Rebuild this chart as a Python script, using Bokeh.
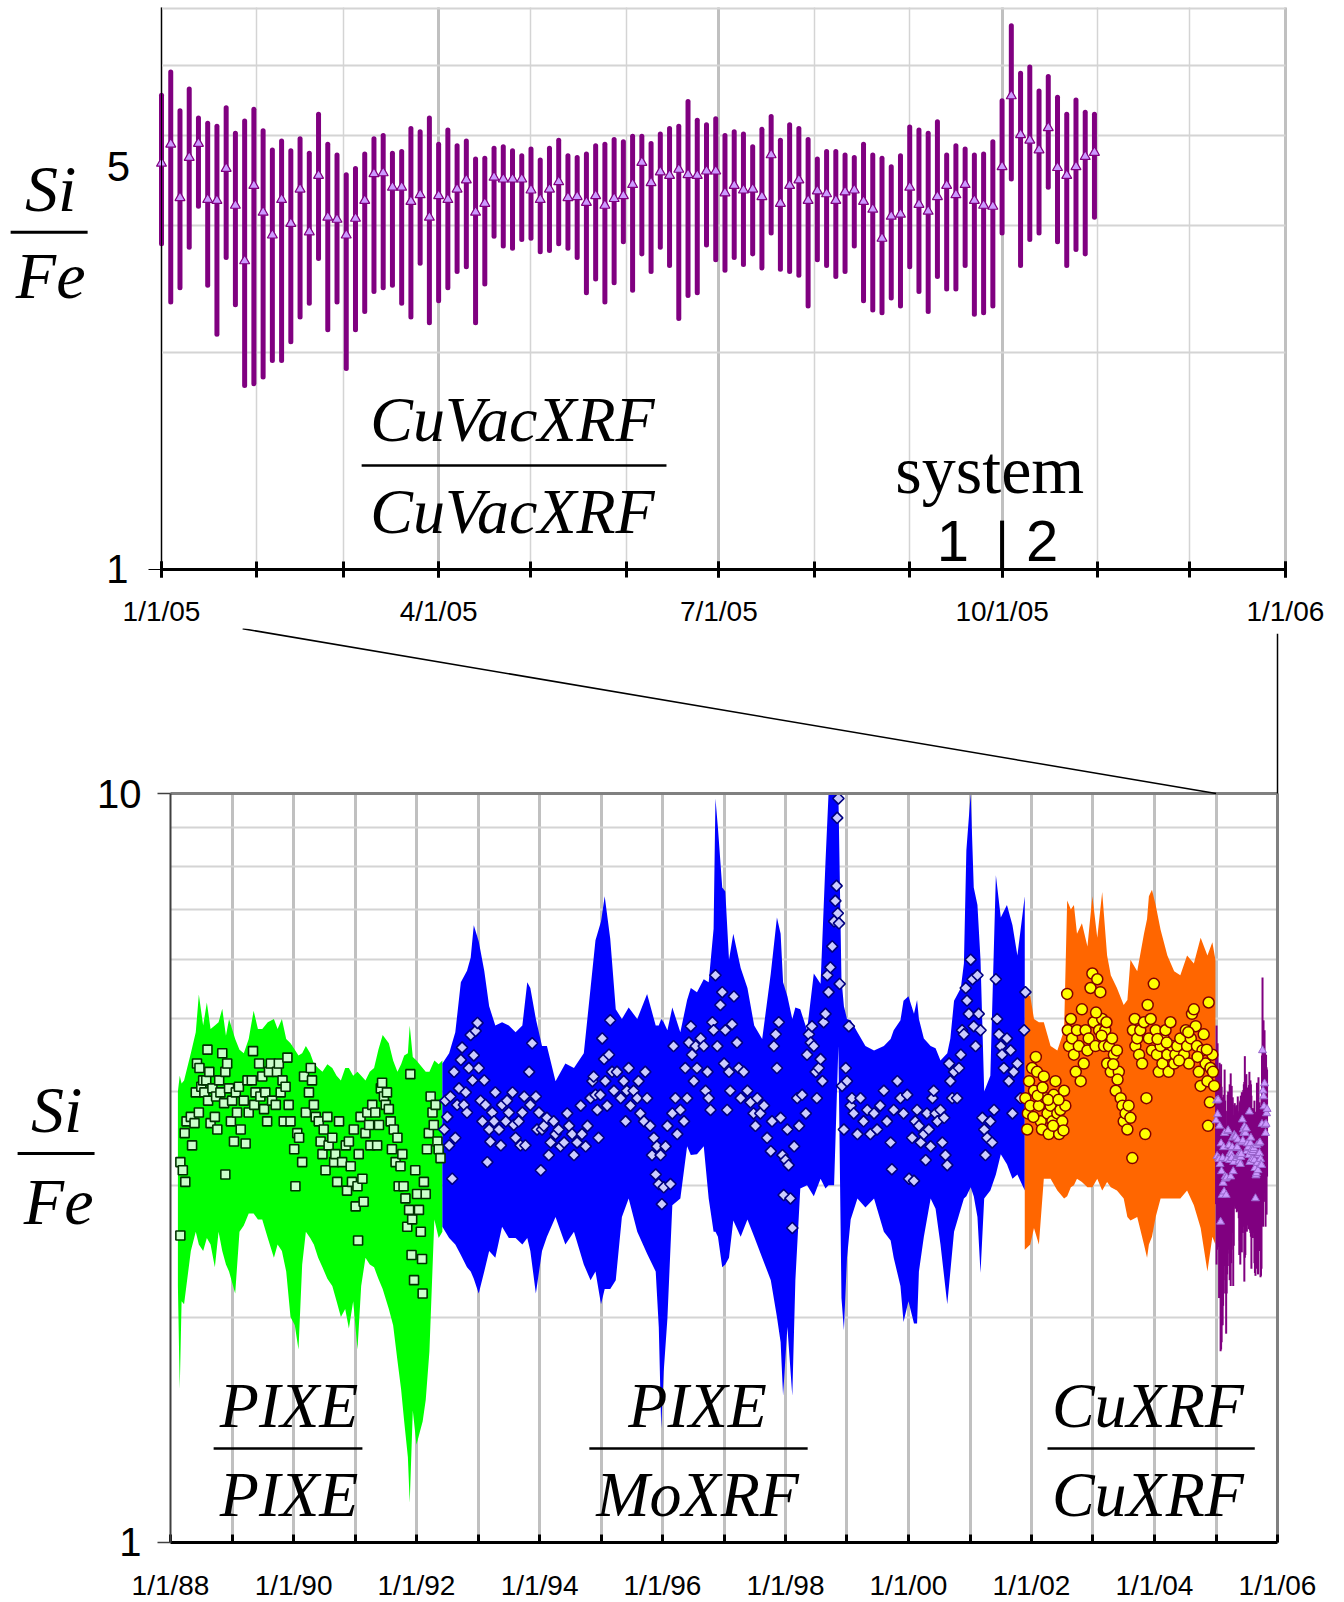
import math
from datetime import datetime, timedelta
from bokeh.plotting import figure
from bokeh.models import Range1d, FixedTicker, Label, ColumnDataSource
from bokeh.layouts import column
from bokeh.embed import file_html
from bokeh.resources import INLINE

# ---------------------------------------------------------------- data
# Top panel: CuVacXRF / CuVacXRF, one sample every third day of 2005
TOP_START = "2005-01-01"
TOP_STEP_DAYS = 3
TOP_HI = [4.55, 4.90, 4.33, 4.64, 4.23, 4.16, 4.12, 4.37, 4.03, 4.19,
          4.35, 4.06, 3.82, 3.93, 3.81, 3.96, 3.78, 4.28, 3.89, 3.76,
          3.53, 3.60, 3.77, 3.96, 4.00, 3.78, 3.80, 4.09, 4.05, 4.23,
          3.89, 4.07, 3.87, 3.93, 3.71, 3.72, 3.84, 3.86, 3.81, 3.75,
          3.83, 3.70, 3.84, 3.94, 3.75, 3.73, 3.77, 3.87, 3.89, 3.95,
          3.92, 3.99, 3.99, 3.90, 4.02, 4.09, 4.12, 4.46, 4.20, 4.14,
          4.22, 4.00, 4.05, 4.02, 3.86, 4.08, 4.25, 3.94, 4.14, 4.09,
          3.95, 3.71, 3.80, 3.80, 3.76, 3.73, 3.89, 3.76, 3.72, 3.62,
          3.75, 4.11, 4.07, 4.03, 4.18, 3.76, 3.87, 3.83, 3.76, 3.77,
          3.92, 4.47, 5.68, 4.88, 4.98, 4.61, 4.83, 4.52, 4.28, 4.48,
          4.31, 4.28]
TOP_MID = [3.66, 3.89, 3.28, 3.73, 3.90, 3.26, 3.25, 3.60, 3.20, 2.68,
           3.41, 3.13, 2.91, 3.26, 3.02, 3.37, 2.94, 3.52, 3.08, 3.06,
           2.91, 3.07, 3.25, 3.54, 3.55, 3.39, 3.39, 3.24, 3.31, 3.08,
           3.30, 3.26, 3.37, 3.47, 3.13, 3.22, 3.50, 3.48, 3.48, 3.48,
           3.36, 3.26, 3.37, 3.45, 3.28, 3.29, 3.23, 3.30, 3.20, 3.27,
           3.30, 3.42, 3.67, 3.44, 3.56, 3.52, 3.59, 3.53, 3.52, 3.57,
           3.57, 3.33, 3.41, 3.36, 3.37, 3.29, 3.76, 3.22, 3.41, 3.47,
           3.25, 3.35, 3.32, 3.25, 3.34, 3.36, 3.24, 3.16, 2.88, 3.09,
           3.11, 3.39, 3.21, 3.14, 3.29, 3.41, 3.31, 3.42, 3.25, 3.20,
           3.19, 3.62, 4.54, 4.01, 3.94, 3.82, 4.10, 3.61, 3.52, 3.62,
           3.74, 3.79]
TOP_LO = [2.83, 2.35, 2.46, 2.80, 3.19, 2.48, 2.12, 2.71, 2.33, 1.80,
          1.81, 1.85, 1.95, 1.95, 2.07, 2.24, 2.34, 2.70, 2.15, 2.35,
          1.90, 2.15, 2.28, 2.43, 2.46, 2.48, 2.34, 2.24, 2.66, 2.20,
          2.36, 2.46, 2.59, 2.63, 2.20, 2.49, 2.90, 2.81, 2.79, 2.87,
          2.88, 2.76, 2.77, 2.83, 2.79, 2.71, 2.42, 2.53, 2.35, 2.50,
          2.85, 2.44, 2.74, 2.59, 2.80, 2.64, 2.23, 2.40, 2.42, 2.82,
          2.69, 2.60, 2.71, 2.65, 2.74, 2.62, 2.93, 2.61, 2.59, 2.56,
          2.32, 2.69, 2.64, 2.55, 2.59, 2.81, 2.36, 2.29, 2.27, 2.38,
          2.32, 2.63, 2.43, 2.28, 2.55, 2.45, 2.45, 2.64, 2.26, 2.27,
          2.32, 2.93, 3.48, 2.64, 2.87, 2.93, 3.39, 2.85, 2.64, 2.78,
          2.74, 3.08]
TOP_TICK_DATES = ["2005-01-01", "2005-04-01", "2005-07-01", "2005-10-01", "2006-01-01"]
TOP_TICK_LABELS = ["1/1/05", "4/1/05", "7/1/05", "10/1/05", "1/1/06"]
TOP_MONTH_DATES = ["2005-01-01", "2005-02-01", "2005-03-01", "2005-04-01", "2005-05-01",
                   "2005-06-01", "2005-07-01", "2005-08-01", "2005-09-01", "2005-10-01",
                   "2005-11-01", "2005-12-01", "2006-01-01"]
TOP_GRID_VALUES = [2, 3, 4, 5, 6]
TOP_Y_MAX = 6.02
SYSTEM_CHANGE = "2005-10-01"

# Bottom panel: spread of the samples (decimal years)
GREEN_BAND_YEAR = [1988.12, 1988.15, 1988.18, 1988.22, 1988.33, 1988.41, 1988.46, 1988.53, 1988.59, 1988.65,
                   1988.72, 1988.78, 1988.84, 1988.90, 1988.95, 1989.05, 1989.12, 1989.19, 1989.27, 1989.35,
                   1989.42, 1989.49, 1989.58, 1989.68, 1989.74, 1989.81, 1989.88, 1989.95, 1990.02, 1990.08,
                   1990.14, 1990.20, 1990.27, 1990.33, 1990.40, 1990.47, 1990.55, 1990.63, 1990.70, 1990.77,
                   1990.84, 1990.90, 1990.97, 1991.04, 1991.10, 1991.17, 1991.24, 1991.31, 1991.38, 1991.45,
                   1991.55, 1991.62, 1991.69, 1991.75, 1991.80, 1991.86, 1991.89, 1991.94, 1992.00, 1992.05,
                   1992.10, 1992.15, 1992.21, 1992.29, 1992.36, 1992.42]
GREEN_HI = [4.00, 4.20, 4.10, 4.14, 4.50, 4.80, 5.39, 4.90, 5.26, 4.85,
            4.90, 4.95, 5.16, 4.75, 5.00, 4.70, 4.55, 4.50, 4.70, 5.13,
            4.85, 4.85, 4.95, 5.00, 4.85, 5.00, 4.70, 4.64, 4.55, 4.47,
            4.50, 4.60, 4.50, 4.36, 4.30, 4.25, 4.35, 4.30, 4.20, 4.14,
            4.30, 4.30, 4.20, 4.25, 4.20, 4.14, 4.25, 4.30, 4.55, 4.76,
            4.64, 4.40, 4.25, 4.35, 4.47, 4.50, 4.90, 4.45, 4.40, 4.35,
            4.30, 4.25, 4.25, 4.40, 4.35, 4.40]
GREEN_LO = [2.20, 1.60, 2.10, 2.08, 2.45, 2.60, 2.50, 2.45, 2.55, 2.50,
            2.33, 2.60, 2.45, 2.35, 2.30, 2.15, 2.60, 2.65, 2.75, 2.75,
            2.70, 2.70, 2.55, 2.40, 2.50, 2.45, 2.30, 2.00, 1.95, 1.81,
            2.35, 2.60, 2.55, 2.50, 2.40, 2.33, 2.25, 2.20, 2.10, 2.00,
            2.05, 1.93, 2.10, 1.81, 2.20, 2.40, 2.35, 2.33, 2.25, 2.18,
            2.05, 1.95, 1.75, 1.60, 1.45, 1.30, 1.13, 1.50, 1.35, 1.40,
            1.45, 1.55, 1.80, 2.70, 2.55, 2.60]

BLUE_BAND_YEAR = [1992.42, 1992.53, 1992.63, 1992.72, 1992.82, 1992.88, 1992.93, 1993.01, 1993.10, 1993.18,
                  1993.28, 1993.39, 1993.50, 1993.61, 1993.72, 1993.80, 1993.85, 1993.94, 1994.04, 1994.12,
                  1994.26, 1994.42, 1994.56, 1994.72, 1994.83, 1994.91, 1995.00, 1995.06, 1995.15, 1995.24,
                  1995.34, 1995.45, 1995.59, 1995.75, 1995.89, 1995.94, 1995.98, 1996.02, 1996.08, 1996.16,
                  1996.29, 1996.40, 1996.46, 1996.56, 1996.67, 1996.75, 1996.83, 1996.86, 1996.90, 1996.97,
                  1997.02, 1997.08, 1997.15, 1997.27, 1997.38, 1997.49, 1997.62, 1997.76, 1997.86, 1997.92,
                  1997.96, 1998.03, 1998.11, 1998.16, 1998.24, 1998.35, 1998.46, 1998.57, 1998.65, 1998.70,
                  1998.79, 1998.86, 1998.91, 1998.95, 1999.00, 1999.06, 1999.17, 1999.30, 1999.44, 1999.60,
                  1999.71, 1999.76, 1999.87, 1999.92, 2000.00, 2000.09, 2000.14, 2000.17, 2000.25, 2000.36,
                  2000.44, 2000.52, 2000.63, 2000.68, 2000.74, 2000.85, 2000.90, 2000.94, 2001.01, 2001.06,
                  2001.12, 2001.17, 2001.23, 2001.33, 2001.42, 2001.50, 2001.60, 2001.69, 2001.77, 2001.89]
BLUE_HI = [4.36, 4.50, 4.80, 5.60, 5.80, 6.04, 6.67, 6.35, 5.80, 5.20,
           4.90, 4.95, 4.90, 4.80, 4.90, 5.60, 5.50, 5.00, 4.60, 4.60,
           4.13, 4.36, 4.30, 4.50, 5.50, 6.37, 6.75, 7.29, 6.40, 5.15,
           5.00, 5.18, 5.00, 5.40, 4.90, 4.90, 5.00, 4.95, 4.83, 5.18,
           4.80, 5.30, 5.50, 5.43, 5.65, 5.60, 6.60, 9.85, 9.00, 7.49,
           7.40, 6.00, 6.50, 5.85, 5.50, 4.90, 4.70, 5.75, 6.83, 6.50,
           5.60, 5.36, 5.00, 5.18, 5.15, 4.83, 5.75, 5.57, 8.10, 10.0,
           10.0, 10.0, 5.65, 5.20, 5.00, 4.98, 4.80, 4.60, 4.54, 4.60,
           4.70, 4.83, 4.98, 5.29, 5.36, 5.08, 5.30, 5.00, 4.71, 4.60,
           4.57, 4.40, 4.50, 4.71, 5.29, 5.50, 5.93, 8.40, 10.0, 7.49,
           7.10, 6.00, 4.00, 4.20, 7.78, 6.83, 7.10, 6.67, 6.08, 7.29]
BLUE_LO = [2.64, 2.55, 2.50, 2.42, 2.33, 2.30, 2.25, 2.15, 2.30, 2.45,
           2.40, 2.64, 2.55, 2.55, 2.50, 2.55, 2.45, 2.15, 2.45, 2.56,
           2.72, 2.50, 2.60, 2.35, 2.24, 2.30, 2.08, 2.18, 2.18, 2.24,
           2.72, 2.88, 2.60, 2.43, 2.30, 1.94, 1.42, 1.69, 1.99, 2.82,
           2.88, 3.38, 3.29, 3.30, 3.38, 2.88, 2.60, 2.60, 2.56, 2.33,
           2.35, 2.40, 2.69, 2.56, 2.70, 2.56, 2.40, 2.24, 2.00, 1.85,
           1.57, 1.94, 1.57, 2.24, 2.97, 3.00, 2.90, 3.06, 2.97, 3.00,
           3.00, 4.60, 2.12, 1.92, 2.40, 2.70, 2.88, 2.80, 2.88, 2.60,
           2.53, 2.40, 2.20, 1.97, 2.10, 1.96, 1.96, 2.30, 2.56, 2.88,
           2.79, 2.50, 2.08, 2.30, 2.60, 2.79, 2.88, 2.90, 2.98, 2.90,
           2.72, 2.29, 2.88, 2.95, 3.10, 3.30, 3.20, 3.06, 3.10, 2.95]

ORANGE_BAND_YEAR = [2001.89, 2001.98, 2002.04, 2002.12, 2002.20, 2002.31, 2002.42, 2002.53, 2002.58, 2002.64,
                    2002.69, 2002.74, 2002.82, 2002.91, 2002.99, 2003.07, 2003.15, 2003.23, 2003.29, 2003.39,
                    2003.50, 2003.56, 2003.61, 2003.72, 2003.83, 2003.88, 2003.91, 2003.96, 2004.02, 2004.10,
                    2004.21, 2004.32, 2004.42, 2004.53, 2004.64, 2004.75, 2004.86, 2004.94, 2004.99]
ORANGE_HI = [5.43, 5.36, 5.00, 4.95, 4.95, 4.60, 4.54, 4.83, 7.20, 7.00,
             7.10, 6.50, 6.71, 6.25, 7.29, 6.42, 7.39, 6.08, 5.72, 5.50,
             5.22, 5.30, 6.00, 5.79, 6.50, 6.80, 7.29, 7.44, 7.10, 6.58,
             6.08, 5.79, 5.72, 6.08, 5.93, 6.42, 6.08, 6.33, 6.00]
ORANGE_LO = [2.46, 2.50, 2.63, 2.50, 3.06, 3.06, 2.95, 2.88, 2.90, 2.98,
             3.00, 3.06, 3.03, 2.98, 2.98, 3.06, 2.95, 3.03, 2.98, 2.95,
             2.88, 2.72, 2.69, 2.72, 2.50, 2.40, 2.50, 2.56, 2.72, 2.88,
             2.88, 2.88, 2.88, 2.95, 2.82, 2.63, 2.30, 2.56, 2.50]

# Bottom panel: individual sample markers (decimal year, Si/Fe)
GREEN_MK_YEAR = [1988.16, 1988.16, 1988.20, 1988.24, 1988.23, 1988.26, 1988.33, 1988.35, 1988.39, 1988.41,
                 1988.43, 1988.46, 1988.47, 1988.50, 1988.53, 1988.55, 1988.58, 1988.60, 1988.61, 1988.63,
                 1988.65, 1988.68, 1988.72, 1988.74, 1988.76, 1988.79, 1988.81, 1988.84, 1988.87, 1988.89,
                 1988.89, 1988.92, 1988.95, 1988.98, 1989.00, 1989.03, 1989.06, 1989.08, 1989.11, 1989.14,
                 1989.19, 1989.22, 1989.25, 1989.27, 1989.32, 1989.34, 1989.36, 1989.38, 1989.44, 1989.46,
                 1989.49, 1989.52, 1989.54, 1989.57, 1989.60, 1989.63, 1989.65, 1989.71, 1989.73, 1989.76,
                 1989.79, 1989.82, 1989.84, 1989.87, 1989.90, 1989.92, 1989.95, 1990.01, 1990.03, 1990.06,
                 1990.09, 1990.14, 1990.17, 1990.20, 1990.25, 1990.28, 1990.30, 1990.33, 1990.36, 1990.41,
                 1990.44, 1990.47, 1990.49, 1990.52, 1990.55, 1990.57, 1990.63, 1990.66, 1990.68, 1990.71,
                 1990.74, 1990.79, 1990.85, 1990.87, 1990.90, 1990.93, 1990.95, 1990.98, 1991.01, 1991.04,
                 1991.05, 1991.06, 1991.09, 1991.12, 1991.14, 1991.17, 1991.20, 1991.23, 1991.25, 1991.28,
                 1991.33, 1991.36, 1991.39, 1991.42, 1991.44, 1991.47, 1991.50, 1991.52, 1991.55, 1991.58,
                 1991.60, 1991.63, 1991.66, 1991.69, 1991.71, 1991.74, 1991.77, 1991.79, 1991.82, 1991.85,
                 1991.88, 1991.90, 1991.92, 1991.93, 1991.96, 1991.98, 1992.01, 1992.04, 1992.07, 1992.09,
                 1992.10, 1992.12, 1992.15, 1992.17, 1992.20, 1992.23, 1992.26, 1992.28, 1992.31, 1992.34,
                 1992.36, 1992.39]
GREEN_MK_VAL = [2.57, 3.22, 3.14, 3.03, 3.52, 3.65, 3.70, 3.39, 3.63, 3.99,
                4.36, 3.75, 4.30, 4.06, 4.14, 3.99, 4.14, 4.55, 3.89, 4.25,
                3.63, 4.04, 3.70, 3.94, 3.56, 4.14, 3.99, 4.50, 3.86, 4.25,
                3.10, 4.36, 4.04, 3.65, 3.89, 3.43, 3.99, 3.75, 4.06, 3.56,
                3.89, 3.41, 4.14, 3.75, 4.14, 4.53, 3.84, 3.99, 4.36, 3.94,
                4.19, 3.79, 3.99, 3.65, 4.25, 4.36, 3.89, 3.84, 4.25, 4.36,
                3.99, 4.14, 3.65, 4.06, 4.44, 3.84, 3.65, 3.35, 2.99, 3.52,
                3.47, 3.22, 4.19, 3.75, 3.99, 4.30, 4.14, 3.84, 3.70, 3.65,
                3.43, 3.30, 3.56, 3.14, 3.70, 3.39, 3.47, 3.22, 3.30, 3.03,
                3.65, 3.22, 3.39, 2.95, 3.43, 3.18, 3.03, 3.56, 2.81, 2.99,
                2.53, 3.30, 3.70, 3.06, 2.85, 3.52, 3.75, 3.61, 3.39, 3.84,
                3.75, 3.39, 3.61, 4.04, 4.11, 3.94, 3.84, 3.99, 3.79, 3.65,
                3.35, 3.56, 3.22, 3.47, 2.99, 3.18, 3.30, 2.99, 2.88, 2.64,
                2.78, 4.22, 2.42, 2.70, 2.24, 3.14, 2.92, 2.78, 2.60, 2.39,
                2.15, 3.03, 2.92, 3.35, 3.52, 3.94, 3.75, 3.61, 3.84, 3.43,
                3.35, 3.26]

BLUE_MK_YEAR = [1992.45, 1992.47, 1992.50, 1992.53, 1992.55, 1992.58, 1992.61, 1992.63, 1992.66, 1992.69,
                1992.72, 1992.74, 1992.77, 1992.80, 1992.82, 1992.85, 1992.88, 1992.91, 1992.93, 1992.96,
                1992.99, 1993.01, 1993.04, 1993.07, 1993.10, 1993.12, 1993.15, 1993.18, 1993.20, 1993.23,
                1993.26, 1993.28, 1993.34, 1993.37, 1993.39, 1993.45, 1993.47, 1993.50, 1993.56, 1993.58,
                1993.61, 1993.66, 1993.69, 1993.72, 1993.75, 1993.77, 1993.83, 1993.85, 1993.88, 1993.94,
                1993.96, 1993.99, 1994.02, 1994.04, 1994.07, 1994.12, 1994.15, 1994.18, 1994.23, 1994.26,
                1994.31, 1994.34, 1994.40, 1994.45, 1994.48, 1994.53, 1994.56, 1994.61, 1994.67, 1994.69,
                1994.75, 1994.78, 1994.83, 1994.86, 1994.88, 1994.91, 1994.94, 1994.96, 1994.99, 1995.02,
                1995.05, 1995.07, 1995.10, 1995.13, 1995.15, 1995.18, 1995.21, 1995.26, 1995.32, 1995.37,
                1995.40, 1995.42, 1995.45, 1995.48, 1995.53, 1995.59, 1995.61, 1995.64, 1995.70, 1995.72,
                1995.75, 1995.80, 1995.83, 1995.86, 1995.89, 1995.91, 1995.94, 1995.97, 1995.99, 1996.02,
                1996.05, 1996.08, 1996.13, 1996.16, 1996.18, 1996.21, 1996.24, 1996.29, 1996.35, 1996.37,
                1996.40, 1996.43, 1996.46, 1996.48, 1996.51, 1996.54, 1996.56, 1996.62, 1996.67, 1996.70,
                1996.73, 1996.75, 1996.78, 1996.81, 1996.83, 1996.86, 1996.89, 1996.94, 1996.97, 1997.00,
                1997.02, 1997.05, 1997.08, 1997.10, 1997.13, 1997.16, 1997.21, 1997.24, 1997.27, 1997.32,
                1997.38, 1997.43, 1997.48, 1997.51, 1997.54, 1997.59, 1997.65, 1997.70, 1997.76, 1997.78,
                1997.81, 1997.84, 1997.86, 1997.89, 1997.92, 1997.95, 1997.97, 1998.00, 1998.03, 1998.05,
                1998.08, 1998.11, 1998.14, 1998.19, 1998.22, 1998.27, 1998.33, 1998.35, 1998.38, 1998.41,
                1998.43, 1998.46, 1998.49, 1998.51, 1998.54, 1998.57, 1998.60, 1998.62, 1998.65, 1998.68,
                1998.70, 1998.73, 1998.76, 1998.79, 1998.81, 1998.83, 1998.85, 1998.87, 1998.88, 1998.84,
                1998.86, 1998.92, 1998.95, 1998.98, 1999.00, 1999.03, 1999.06, 1999.08, 1999.11, 1999.17,
                1999.22, 1999.27, 1999.33, 1999.38, 1999.44, 1999.49, 1999.54, 1999.60, 1999.65, 1999.71,
                1999.73, 1999.76, 1999.82, 1999.87, 1999.92, 1999.98, 2000.01, 2000.09, 2000.14, 2000.06,
                2000.11, 2000.17, 2000.20, 2000.25, 2000.28, 2000.30, 2000.33, 2000.36, 2000.39, 2000.41,
                2000.44, 2000.47, 2000.52, 2000.55, 2000.58, 2000.60, 2000.63, 2000.66, 2000.68, 2000.71,
                2000.74, 2000.79, 2000.82, 2000.85, 2000.87, 2000.90, 2000.93, 2000.95, 2000.98, 2001.01,
                2001.04, 2001.06, 2001.09, 2001.12, 2001.14, 2001.17, 2001.20, 2001.23, 2001.25, 2001.28,
                2001.33, 2001.36, 2001.39, 2001.42, 2001.44, 2001.47, 2001.50, 2001.52, 2001.55, 2001.60,
                2001.63, 2001.66, 2001.69, 2001.71, 2001.77, 2001.82, 2001.88, 2001.90]
BLUE_MK_VAL = [3.56, 3.89, 3.70, 3.39, 3.94, 3.06, 4.25, 3.47, 3.84, 4.04,
               4.41, 4.58, 3.84, 3.99, 3.75, 4.30, 4.76, 4.14, 4.47, 4.82,
               4.94, 4.30, 3.89, 3.65, 4.14, 3.84, 3.22, 3.56, 3.43, 3.75,
               3.65, 3.99, 3.56, 3.39, 3.84, 3.65, 3.89, 3.75, 3.99, 3.61,
               3.47, 3.65, 3.39, 3.75, 3.94, 3.39, 4.25, 3.84, 4.64, 3.94,
               3.56, 3.75, 3.14, 3.56, 3.60, 3.69, 3.29, 3.42, 3.65, 3.51,
               3.56, 3.38, 3.42, 3.74, 3.60, 3.51, 3.29, 3.42, 3.83, 3.51,
               3.38, 3.60, 3.92, 4.13, 4.19, 3.96, 3.78, 3.47, 3.96, 4.71,
               4.42, 4.13, 3.83, 4.48, 4.98, 4.25, 4.01, 4.25, 3.92, 4.13,
               3.65, 4.01, 4.30, 3.83, 4.01, 3.92, 4.13, 3.74, 3.65, 4.25,
               3.92, 3.60, 3.29, 3.47, 3.10, 3.38, 3.01, 3.29, 2.83, 2.98,
               3.38, 3.60, 3.01, 3.74, 4.60, 3.92, 3.51, 3.78, 3.65, 4.30,
               3.92, 4.65, 4.89, 4.48, 4.13, 4.60, 4.30, 4.71, 4.60, 4.01,
               4.25, 3.92, 3.78, 4.95, 4.83, 5.72, 4.60, 5.22, 5.43, 4.36,
               4.83, 3.78, 4.25, 4.01, 4.92, 5.36, 4.65, 4.30, 3.92, 4.25,
               4.01, 3.87, 3.74, 3.60, 3.92, 3.74, 3.83, 3.47, 3.33, 3.65,
               4.60, 4.77, 4.30, 4.95, 3.69, 3.29, 2.91, 3.24, 3.56, 3.19,
               2.88, 2.63, 3.38, 3.92, 3.60, 3.96, 3.74, 4.48, 4.77, 4.65,
               4.89, 4.60, 4.25, 3.92, 4.30, 4.42, 4.13, 4.95, 5.08, 5.72,
               5.43, 5.86, 6.25, 6.75, 7.19, 7.53, 6.92, 6.71, 5.57, 9.28,
               9.85, 4.07, 3.56, 4.30, 4.13, 4.89, 3.83, 3.92, 3.74, 3.51,
               3.92, 3.65, 3.78, 3.51, 3.74, 3.56, 3.83, 4.01, 3.65, 3.42,
               3.15, 3.78, 4.13, 3.92, 3.74, 3.96, 3.06, 3.04, 3.78, 3.47,
               3.65, 3.60, 3.42, 3.51, 3.24, 3.74, 3.56, 3.38, 3.92, 4.01,
               3.74, 3.65, 3.78, 3.42, 3.69, 3.29, 3.19, 4.36, 4.13, 3.92,
               4.25, 3.92, 4.30, 4.48, 4.83, 4.77, 5.50, 5.29, 5.08, 6.00,
               5.65, 4.89, 4.60, 5.72, 5.08, 4.83, 3.69, 3.56, 3.29, 3.47,
               3.65, 3.42, 3.78, 5.65, 5.00, 4.77, 4.60, 4.48, 4.30, 4.71,
               4.13, 4.54, 3.74, 4.25, 4.36, 3.92, 4.83, 5.43]

ORANGE_MK_YEAR = [2001.90, 2001.93, 2001.94, 2001.96, 2001.98, 2002.01, 2002.04, 2002.07, 2002.09, 2002.12,
                  2002.15, 2002.17, 2002.20, 2002.23, 2002.26, 2002.28, 2002.31, 2002.34, 2002.36, 2002.39,
                  2002.42, 2002.45, 2002.47, 2002.50, 2002.53, 2002.55, 2002.58, 2002.59, 2002.61, 2002.64,
                  2002.66, 2002.69, 2002.72, 2002.74, 2002.77, 2002.80, 2002.82, 2002.85, 2002.88, 2002.91,
                  2002.93, 2002.96, 2002.99, 2003.01, 2003.04, 2003.07, 2003.10, 2003.12, 2003.15, 2003.18,
                  2003.20, 2003.23, 2003.26, 2003.29, 2003.31, 2003.34, 2003.37, 2003.39, 2003.42, 2003.45,
                  2003.48, 2003.50, 2003.53, 2003.56, 2003.58, 2003.61, 2003.64, 2003.65, 2003.68, 2003.69,
                  2003.72, 2003.75, 2003.77, 2003.80, 2003.83, 2003.85, 2003.87, 2003.89, 2003.91, 2003.94,
                  2003.96, 2003.99, 2004.02, 2004.04, 2004.07, 2004.10, 2004.13, 2004.15, 2004.18, 2004.21,
                  2004.23, 2004.26, 2004.29, 2004.32, 2004.34, 2004.37, 2004.42, 2004.48, 2004.51, 2004.53,
                  2004.56, 2004.59, 2004.61, 2004.64, 2004.67, 2004.69, 2004.72, 2004.75, 2004.78, 2004.80,
                  2004.83, 2004.86, 2004.87, 2004.88, 2004.90, 2004.91, 2004.94, 2004.95, 2004.97, 2002.03,
                  2002.10, 2002.18, 2002.27, 2002.35, 2002.44, 2002.52, 2003.05, 2003.14, 2003.22, 2003.33,
                  2003.40, 2004.05, 2004.20, 2004.40, 2004.55, 2004.70, 2004.85]
ORANGE_MK_VAL = [3.92, 3.56, 3.74, 4.13, 3.83, 4.30, 4.01, 4.45, 4.25, 3.83,
                 3.65, 3.56, 4.19, 3.92, 3.74, 3.51, 3.83, 3.65, 3.96, 4.13,
                 3.74, 3.51, 3.78, 3.65, 4.01, 3.83, 5.40, 4.83, 4.60, 5.00,
                 4.71, 4.48, 4.25, 4.83, 4.60, 4.13, 5.15, 4.36, 4.83, 4.54,
                 4.71, 5.50, 5.75, 4.95, 4.60, 5.65, 4.83, 5.43, 5.00, 4.60,
                 4.83, 4.36, 4.60, 4.25, 4.71, 4.48, 4.01, 4.54, 4.25, 3.92,
                 3.83, 3.65, 3.74, 3.56, 3.83, 3.69, 3.26, 4.83, 5.00, 4.60,
                 4.71, 4.48, 4.83, 4.36, 4.95, 3.51, 3.92, 5.22, 4.71, 5.00,
                 4.54, 5.57, 4.83, 4.48, 4.25, 4.60, 4.36, 4.71, 4.83, 4.48,
                 4.25, 4.95, 4.60, 4.36, 4.48, 4.60, 4.71, 4.48, 4.83, 4.60,
                 4.36, 4.71, 5.08, 5.15, 4.89, 4.60, 4.25, 4.07, 4.54, 4.77,
                 4.36, 4.13, 3.60, 5.26, 3.87, 4.30, 4.48, 4.25, 4.07, 3.70,
                 3.95, 4.05, 3.90, 3.60, 3.90, 3.55, 5.10, 4.75, 4.95, 4.35,
                 4.15, 4.70, 4.65, 4.40, 4.80, 4.45, 4.55]

BOT_TICK_YEARS = [1988, 1990, 1992, 1994, 1996, 1998, 2000, 2002, 2004, 2006]
BOT_TICK_LABELS = ["1/1/88", "1/1/90", "1/1/92", "1/1/94", "1/1/96",
                   "1/1/98", "1/1/00", "1/1/02", "1/1/04", "1/1/06"]
BOT_MINOR_YEARS = [1989, 1991, 1993, 1995, 1997, 1999, 2001, 2003, 2005]
BOT_GRID_YEARS = [1989, 1990, 1991, 1992, 1993, 1994, 1995, 1996, 1997,
                  1998, 1999, 2000, 2001, 2002, 2003, 2004, 2005, 2006]
BOT_GRID_VALUES = [2, 3, 4, 5, 6, 7, 8, 9]
BOT_Y_MAX = 10
ZOOM_START, ZOOM_END = "2005-01-01", "2006-01-01"

# ---------------------------------------------------------------- helpers
EPOCH = datetime(1970, 1, 1)


def d(s):
    return datetime.strptime(s, "%Y-%m-%d")


def yr(v):
    y = int(v)
    a, b = datetime(y, 1, 1), datetime(y + 1, 1, 1)
    return a + (b - a) * (v - y)


def ms(t):
    return (t - EPOCH).total_seconds() * 1000.0


def add_text(p, x, y, text, size, font="Liberation Serif", style="italic", align="center"):
    p.add_layout(Label(x=x, y=y, text=text, text_font=font, text_font_size=f"{size}px",
                       text_font_style=style, text_align=align, text_baseline="middle",
                       text_color="black"))


def rule(p, x0, x1, y, width):
    p.segment(x0=[x0], y0=[y], x1=[x1], y1=[y], line_color="black", line_width=width)


PURPLE = "#800080"
SANS = "Liberation Sans"
TICK_FONT = "28px"
VALUE_FONT = "40px"

# ---------------------------------------------------------------- top panel
top_dates = [ms(d(TOP_START) + timedelta(days=TOP_STEP_DAYS * i)) for i in range(len(TOP_MID))]
t0, t1 = ms(d("2005-01-01")), ms(d("2006-01-01"))

top = figure(x_axis_type="datetime", y_axis_type="log",
             x_range=Range1d(ms(datetime(2004, 11, 9, 17)), ms(datetime(2006, 1, 20, 5))),
             y_range=Range1d(0.8282, 6.157),
             frame_width=1344, frame_height=628,
             min_border_left=0, min_border_right=0, min_border_top=0, min_border_bottom=0,
             output_backend="svg", toolbar_location=None,
             background_fill_color="white", border_fill_color="white")
top.outline_line_color = None

q_ms = [ms(d(s)) for s in TOP_TICK_DATES]
m_ms = [ms(d(s)) for s in TOP_MONTH_DATES]
xa = top.xaxis[0]
xa.fixed_location = 1
xa.bounds = (t0, t1)
xa.ticker = FixedTicker(ticks=q_ms, minor_ticks=m_ms)
xa.major_label_overrides = {t: lab for t, lab in zip(q_ms, TOP_TICK_LABELS)}
xa.axis_line_width = 3
xa.axis_line_color = "black"
xa.major_tick_in = 8
xa.major_tick_out = 8
xa.major_tick_line_width = 3
xa.minor_tick_in = 8
xa.minor_tick_out = 8
xa.minor_tick_line_width = 3
xa.minor_tick_line_color = "black"
xa.major_label_text_font = SANS
xa.major_label_text_font_size = TICK_FONT
xa.major_label_text_color = "black"
xa.major_label_standoff = 19

ya = top.yaxis[0]
ya.fixed_location = t0
ya.bounds = (1, TOP_Y_MAX)
ya.ticker = FixedTicker(ticks=[1])
ya.major_label_overrides = {1: "1"}
ya.axis_line_color = "black"
ya.axis_line_width = 1
ya.major_tick_out = 13
ya.major_tick_in = 0
ya.major_tick_line_width = 1
ya.minor_tick_out = 0
ya.minor_tick_in = 0
ya.major_label_text_font = SANS
ya.major_label_text_font_size = VALUE_FONT
ya.major_label_text_color = "black"
ya.major_label_standoff = 20

top.xgrid.ticker = FixedTicker(ticks=q_ms, minor_ticks=m_ms)
top.xgrid.cross_bounds = (1, TOP_Y_MAX)
top.xgrid.grid_line_color = "#c0c0c0"
top.xgrid.grid_line_width = 3
top.xgrid.minor_grid_line_color = "#d4d4d4"
top.xgrid.minor_grid_line_width = 1.5
top.ygrid.ticker = FixedTicker(ticks=TOP_GRID_VALUES)
top.ygrid.cross_bounds = (t0, t1)
top.ygrid.grid_line_color = "#d4d4d4"
top.ygrid.grid_line_width = 2

src = ColumnDataSource(dict(date=top_dates, hi=TOP_HI, mid=TOP_MID, lo=TOP_LO))
top.segment(x0="date", y0="lo", x1="date", y1="hi", source=src,
            line_color=PURPLE, line_width=5, line_cap="round")
top.scatter(x="date", y="mid", source=src, marker="triangle", size=10,
            fill_color="#CC99FF", line_color=PURPLE, line_width=1.2)

add_text(top, ms(d("2004-11-26")), 3.381, "Si", 66)
rule(top, ms(d("2004-11-13")), ms(d("2004-12-08")), 2.937, 3)
add_text(top, ms(d("2004-11-26")), 2.557, "Fe", 66)
add_text(top, ms(d("2004-12-18")), 3.622, "5", 42, font=SANS, style="normal")

add_text(top, ms(d("2005-04-25")), 1.615, "CuVacXRF", 64)
rule(top, ms(d("2005-03-07")), ms(d("2005-06-14")), 1.394, 2.5)
add_text(top, ms(d("2005-04-25")), 1.203, "CuVacXRF", 64)

add_text(top, ms(d("2005-09-27")), 1.372, "system", 68, style="normal")
add_text(top, ms(d("2005-09-15")), 1.094, "1", 58, font=SANS, style="normal")
add_text(top, ms(d("2005-10-14")), 1.094, "2", 58, font=SANS, style="normal")
top.segment(x0=[ms(d(SYSTEM_CHANGE))], y0=[1.0], x1=[ms(d(SYSTEM_CHANGE))], y1=[1.169],
            line_color="black", line_width=4)

# ---------------------------------------------------------------- bottom panel
x_lo, x_hi = ms(datetime(1988, 1, 1)), ms(datetime(2006, 1, 1))
bot = figure(x_axis_type="datetime", y_axis_type="log",
             x_range=Range1d(ms(datetime(1985, 3, 27, 7)), ms(datetime(2007, 2, 2, 22))),
             y_range=Range1d(0.834, 16.61),
             frame_width=1344, frame_height=973,
             min_border_left=0, min_border_right=0, min_border_top=0, min_border_bottom=0,
             output_backend="svg", toolbar_location=None,
             background_fill_color="white", border_fill_color="white")
bot.outline_line_color = None

even_ms = [ms(datetime(y, 1, 1)) for y in BOT_TICK_YEARS]
odd_ms = [ms(datetime(y, 1, 1)) for y in BOT_MINOR_YEARS]
bx = bot.xaxis[0]
bx.fixed_location = 1
bx.bounds = (x_lo, x_hi)
bx.ticker = FixedTicker(ticks=even_ms, minor_ticks=odd_ms)
bx.major_label_overrides = {t: lab for t, lab in zip(even_ms, BOT_TICK_LABELS)}
bx.axis_line_width = 3
bx.axis_line_color = "black"
bx.major_tick_in = 8
bx.major_tick_out = 0
bx.major_tick_line_width = 3
bx.minor_tick_in = 8
bx.minor_tick_out = 0
bx.minor_tick_line_width = 3
bx.minor_tick_line_color = "black"
bx.major_label_text_font = SANS
bx.major_label_text_font_size = TICK_FONT
bx.major_label_text_color = "black"
bx.major_label_standoff = 28

by = bot.yaxis[0]
by.fixed_location = x_lo
by.bounds = (1, BOT_Y_MAX)
by.ticker = FixedTicker(ticks=[1, 10])
by.major_label_overrides = {1: "1", 10: "10"}
by.axis_line_color = "#404040"
by.axis_line_width = 2
by.major_tick_out = 13
by.major_tick_in = 0
by.major_tick_line_width = 1.5
by.major_tick_line_color = "#404040"
by.minor_tick_out = 0
by.minor_tick_in = 0
by.major_label_text_font = SANS
by.major_label_text_font_size = VALUE_FONT
by.major_label_text_color = "black"
by.major_label_standoff = 16

grid_ms = [ms(datetime(y, 1, 1)) for y in BOT_GRID_YEARS]
bot.xgrid.ticker = FixedTicker(ticks=grid_ms)
bot.xgrid.cross_bounds = (1, BOT_Y_MAX)
bot.xgrid.grid_line_color = "#c0c0c0"
bot.xgrid.grid_line_width = 3
bot.ygrid.ticker = FixedTicker(ticks=BOT_GRID_VALUES)
bot.ygrid.cross_bounds = (x_lo, x_hi)
bot.ygrid.grid_line_color = "#d4d4d4"
bot.ygrid.grid_line_width = 2


def band(years, lo, hi, color):
    n = min(len(years), len(lo), len(hi))
    bot.varea(x=[ms(yr(v)) for v in years[:n]], y1=lo[:n], y2=hi[:n], fill_color=color)


band(GREEN_BAND_YEAR, GREEN_LO, GREEN_HI, "#00FF00")
band(BLUE_BAND_YEAR, BLUE_LO, BLUE_HI, "#0000FF")
band(ORANGE_BAND_YEAR, ORANGE_LO, ORANGE_HI, "#FF6600")
bot.segment(x0="date", y0="lo", x1="date", y1="hi", source=src, line_color=PURPLE, line_width=2)


def markers(years, vals, **kw):
    n = min(len(years), len(vals))
    bot.scatter(x=[ms(yr(v)) for v in years[:n]], y=vals[:n], **kw)


markers(GREEN_MK_YEAR, GREEN_MK_VAL, marker="square", size=9,
        fill_color="#CCFFCC", line_color="#003300", line_width=1.6)
markers(BLUE_MK_YEAR, BLUE_MK_VAL, marker="square", angle=math.pi / 4, size=8,
        fill_color="#CCCCFF", line_color="#000080", line_width=1.6)
markers(ORANGE_MK_YEAR, ORANGE_MK_VAL, marker="circle", size=11,
        fill_color="#FFFF00", line_color="#800000", line_width=1.5)
bot.scatter(x="date", y="mid", source=src, marker="triangle", size=8,
            fill_color="#CC99FF", line_color="#9966CC", line_width=1)

# frame (top, right) and the zoom connector
z0, z1 = ms(d(ZOOM_START)), ms(d(ZOOM_END))
bot.segment(x0=[x_lo], y0=[BOT_Y_MAX], x1=[x_hi], y1=[BOT_Y_MAX], line_color="#808080", line_width=3)
bot.segment(x0=[x_hi], y0=[1], x1=[x_hi], y1=[BOT_Y_MAX], line_color="#808080", line_width=3)
bot.segment(x0=[ms(yr(1989.171))], y0=[16.6], x1=[z0], y1=[BOT_Y_MAX], line_color="black", line_width=1.5)
bot.segment(x0=[z1], y0=[BOT_Y_MAX], x1=[z1], y1=[16.35], line_color="black", line_width=1.5)

add_text(bot, ms(yr(1986.146)), 3.786, "Si", 66)
rule(bot, ms(yr(1985.512)), ms(yr(1986.764)), 3.307, 3)
add_text(bot, ms(yr(1986.18)), 2.853, "Fe", 66)

for cx, x0, x1, num, den in [(1989.927, 1988.70, 1991.12, "PIXE", "PIXE"),
                             (1996.57, 1994.81, 1998.36, "PIXE", "MoXRF"),
                             (2003.894, 2002.26, 2005.63, "CuXRF", "CuXRF")]:
    add_text(bot, ms(yr(cx)), 1.523, num, 64)
    rule(bot, ms(yr(x0)), ms(yr(x1)), 1.335, 2.5)
    add_text(bot, ms(yr(cx)), 1.159, den, 64)

layout = column(top, bot)
open("out.html", "w").write(file_html(layout, INLINE, "Si/Fe"))
